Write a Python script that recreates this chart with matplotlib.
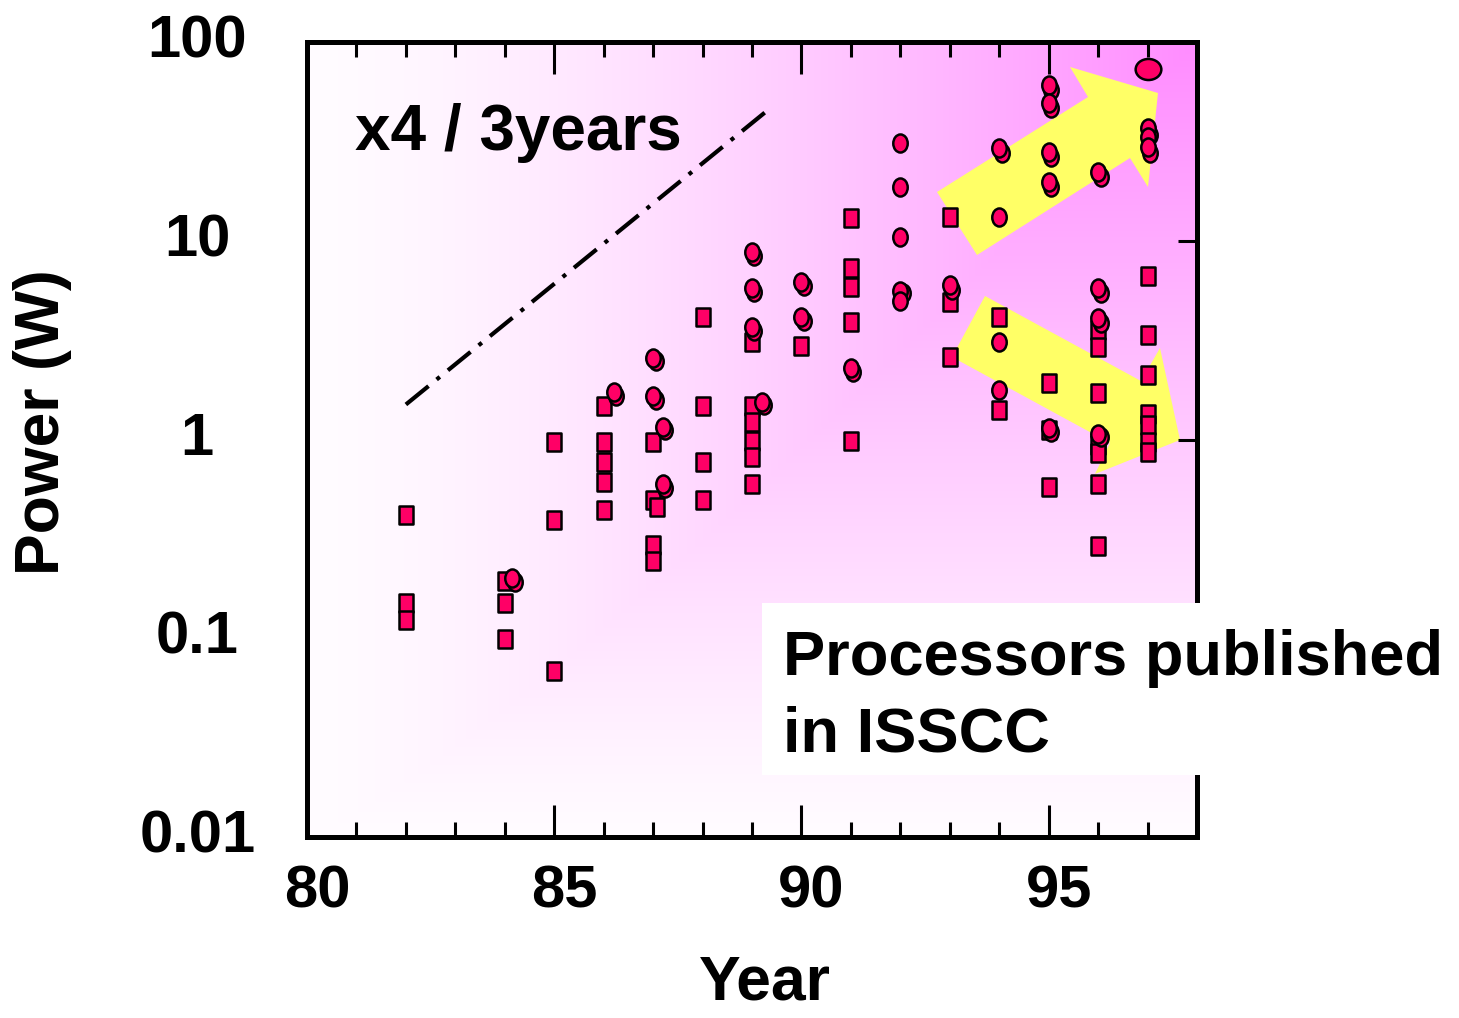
import numpy as np
import matplotlib
matplotlib.use('Agg')
import matplotlib.pyplot as plt
from matplotlib.path import Path
from matplotlib.patches import Polygon, Rectangle
from matplotlib.transforms import ScaledTranslation, Affine2D
from matplotlib.ticker import NullLocator, FixedLocator

plt.rcParams['font.family'] = ['Liberation Sans', 'DejaVu Sans']
plt.rcParams['font.weight'] = 'bold'

# ---------------- data ----------------
square_years = [82, 82, 82,
                84, 84, 84,
                85, 85, 85,
                86, 86, 86, 86, 86,
                87, 87, 87.07, 87, 87,
                88, 88, 88, 88,
                89, 89, 89, 89, 89, 89,
                90,
                91, 91, 91, 91, 91,
                93, 93, 93,
                94, 94,
                95, 95, 95,
                96, 96, 96, 96, 96, 96, 96,
                97, 97, 97, 97, 97, 97, 97]
square_power = [0.417, 0.151, 0.124,
                0.195, 0.150, 0.099,
                0.975, 0.392, 0.0688,
                1.47, 0.975, 0.773, 0.613, 0.442,
                0.975, 0.496, 0.459, 0.295, 0.245,
                4.15, 1.47, 0.773, 0.496,
                3.10, 1.47, 1.23, 0.986, 0.82, 0.595,
                2.95,
                13.06, 7.27, 5.87, 3.92, 0.98,
                13.1, 4.94, 2.61,
                4.15, 1.41,
                1.93, 1.12, 0.579,
                3.56, 2.93, 1.71, 0.938, 0.858, 0.595, 0.291,
                6.64, 3.36, 2.11, 1.35, 1.18, 0.975, 0.868]

# circles (front)
circle_years = [84.15, 86.2, 87.0, 87.0, 87.2, 87.2,
                89.0, 89.0, 89.0, 89.2,
                90.0, 90.0, 91.0,
                92.0, 92.0, 92.0, 92.0, 92.0,
                93.0,
                94.0, 94.0, 94.0, 94.0,
                95.0, 95.0, 95.0, 95.0, 95.0,
                96.0, 96.0, 96.0, 96.0,
                97.0, 97.0, 97.0]
circle_power = [0.201, 1.74, 2.58, 1.65, 1.16, 0.595,
                8.8, 5.77, 3.69, 1.55,
                6.22, 4.15, 2.29,
                30.9, 18.6, 10.5, 5.6, 4.98,
                5.99,
                29.2, 13.1, 3.10, 1.77,
                60.8, 49.2, 28.1, 19.8, 1.14,
                22.3, 5.77, 4.07, 1.07,
                36.8, 33.4, 29.7]

# circles lying just behind others (nearly identical values)
circle2_years = [84.2, 86.25, 87.05, 87.05, 87.25, 87.25,
                 89.05, 89.05, 89.05, 89.25,
                 90.05, 90.05, 91.05,
                 92.05, 93.05, 94.05,
                 95.05, 95.05, 95.05, 95.05, 95.05,
                 96.05, 96.05, 96.05, 96.05,
                 97.05, 97.05]
circle2_power = [0.192, 1.66, 2.48, 1.58, 1.11, 0.57,
                 8.4, 5.5, 3.53, 1.49,
                 5.95, 3.95, 2.19,
                 5.43, 5.65, 27.5,
                 57.6, 46.5, 26.5, 18.7, 1.09,
                 21.0, 5.43, 3.84, 1.03,
                 34.0, 27.5]

big_years = [97.0]
big_power = [73.0]

trend_years = [82.0, 89.3]
trend_power = [1.5, 45.0]

x_major = [80, 85, 90, 95]
x_minor = list(range(80, 99))
y_ticks = [0.01, 0.1, 1, 10, 100]
y_labels = ['0.01', '0.1', '1', '10', '100']

# ---------------- figure ----------------
W, H = 1459, 1018
fig = plt.figure(figsize=(W / 100, H / 100), dpi=100)
fig.patch.set_facecolor('white')
L, R, T, B = 307, 1197, 42, 837
ax = fig.add_axes([L / W, (H - B) / H, (R - L) / W, (B - T) / H])
ax.set_yscale('log')

# gradient background (rectangular gradient from the top-right corner)
nx, ny = 500, 400
xf = np.linspace(0, 1, nx)[None, :]
yf = np.linspace(0, 1, ny)[:, None]
t = np.clip(np.minimum(xf ** 1.4, yf ** 1.15), 0, 1)
M = np.array([255, 140, 255]) / 255.0
img = (1 - t)[..., None] * np.array([255, 252, 255]) / 255.0 + t[..., None] * M
ax.imshow(img, extent=[0, 1, 0, 1], transform=ax.transAxes, origin='lower',
          aspect='auto', zorder=0, interpolation='bilinear')


def px2ax(pts):
    return [((px - L) / (R - L), (B - py) / (B - T)) for px, py in pts]


arrow_up = px2ax([(937, 192), (1088, 97), (1070, 67), (1158, 93),
                  (1148, 187), (1130, 158), (977, 255)])
arrow_down = px2ax([(985, 296), (1141, 381), (1160, 348), (1180, 440),
                    (1095, 474), (1110, 443), (952, 357)])
for poly in (arrow_up, arrow_down):
    ax.add_patch(Polygon(poly, closed=True, transform=ax.transAxes,
                         facecolor='#FFFF66', edgecolor='none', zorder=1))

# trend line
ax.plot(trend_years, trend_power, color='black', lw=3,
        linestyle=(0, (7, 2.5, 1, 2.5)), zorder=2)

# markers
sq_marker = Path([(-0.37, -0.5), (0.37, -0.5), (0.37, 0.5), (-0.37, 0.5), (-0.37, -0.5)],
                 [Path.MOVETO, Path.LINETO, Path.LINETO, Path.LINETO, Path.CLOSEPOLY])
circ = Path.unit_circle()
ell_marker = circ.transformed(Affine2D().scale(0.8, 1.0))
big_marker = circ.transformed(Affine2D().scale(1.0, 0.82))
fc = '#FF0066'
common = dict(linestyle='none', markerfacecolor=fc, markeredgecolor='black',
              markeredgewidth=1.8)
ax.plot(square_years, square_power, marker=sq_marker, markersize=13.5, zorder=3, **common)
ax.plot(circle2_years, circle2_power, marker=ell_marker, markersize=13, zorder=4, **common)
ax.plot(circle_years, circle_power, marker=ell_marker, markersize=13, zorder=5, **common)
ax.plot(big_years, big_power, marker=big_marker, markersize=18.5, zorder=5, **common)

ax.set_xlim(80, 98)
ax.set_ylim(0.01, 100)

# axes styling
for s in ax.spines.values():
    s.set_linewidth(3.6)
    s.set_zorder(6)

ax.xaxis.set_major_locator(FixedLocator(x_major))
ax.xaxis.set_minor_locator(FixedLocator(x_minor))
ax.set_xticklabels([str(v) for v in x_major])
ax.set_yticks(y_ticks)
ax.set_yticklabels(y_labels)
ax.yaxis.set_minor_locator(NullLocator())

ax.tick_params(axis='x', which='both', direction='in', top=True, bottom=True,
               width=2.2, color='black')
ax.tick_params(axis='x', which='major', length=23, pad=20, labelsize=43)
ax.tick_params(axis='x', which='minor', length=11)
ax.tick_params(axis='y', which='major', direction='in', left=False, right=True,
               length=14, width=2.2, pad=79, labelsize=43)

for lab in ax.get_yticklabels():
    lab.set_horizontalalignment('center')
    lab.set_verticalalignment('center')
    lab.set_fontweight('bold')
for lab in ax.get_xticklabels():
    lab.set_fontweight('bold')
    lab.set_transform(lab.get_transform() + ScaledTranslation(0.1, 0, fig.dpi_scale_trans))

ax.set_xlabel('Year', fontsize=45, fontweight='bold', va='top')
ax.xaxis.set_label_coords((765 - L) / (R - L), (B - 954) / (B - T))
ax.set_ylabel('Power (W)', fontsize=45, fontweight='bold')
ax.yaxis.set_label_coords((72 - L) / (R - L), (B - 422) / (B - T))

# annotations
fig.text(355 / W, 1 - 150 / H, 'x4 / 3years', fontsize=46, fontweight='bold',
         va='baseline', ha='left')

fig.add_artist(Rectangle((762 / W, (H - 775) / H), (W - 762) / W, (775 - 603) / H,
                         transform=fig.transFigure, facecolor='white',
                         edgecolor='none', zorder=10))
fig.text(783 / W, 1 - 675 / H, 'Processors published', fontsize=45.5,
         fontweight='bold', va='baseline', ha='left', zorder=11)
fig.text(783 / W, 1 - 752 / H, 'in ISSCC', fontsize=45.5,
         fontweight='bold', va='baseline', ha='left', zorder=11)

fig.savefig('out.png', dpi=100)
